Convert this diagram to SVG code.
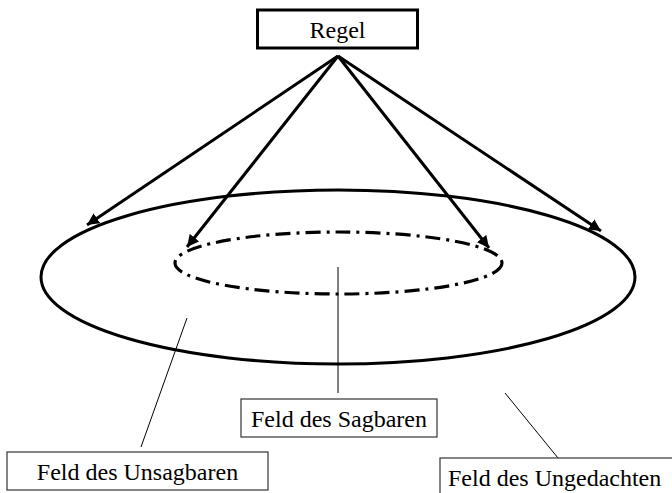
<svg xmlns="http://www.w3.org/2000/svg" width="672" height="493" viewBox="0 0 672 493">
<style>
text{font-family:'Liberation Serif','Times New Roman',Times,'DejaVu Serif',serif;font-size:24px;fill:#000;text-anchor:middle}
.box{fill:#fff;stroke:#333;stroke-width:1.2}
.arrow{stroke:#000;stroke-width:3;fill:none;marker-end:url(#ah)}
.thin{stroke:#000;stroke-width:1;fill:none}
</style>
<defs>
<marker id="ah" markerUnits="userSpaceOnUse" markerWidth="14" markerHeight="12" refX="12" refY="6" orient="auto">
<path d="M0,0 L12,6 L0,12 z" fill="#000"/>
</marker>
</defs>
<g id="fields">
<ellipse id="outer" cx="338" cy="277" rx="297" ry="87" fill="none" stroke="#000" stroke-width="3"/>
<ellipse id="inner" cx="338.5" cy="263" rx="163.5" ry="31" fill="none" stroke="#000" stroke-width="3.2" stroke-dasharray="15 6 3 6"/>
</g>
<g id="connectors">
<line class="arrow" x1="338" y1="56" x2="87" y2="225"/>
<line class="arrow" x1="338" y1="56" x2="187" y2="247"/>
<line class="arrow" x1="338" y1="56" x2="489" y2="248"/>
<line class="arrow" x1="338" y1="56" x2="601" y2="231"/>
<line class="thin" x1="338" y1="267" x2="338" y2="393"/>
<line class="thin" x1="187" y1="318" x2="141" y2="447"/>
<line class="thin" x1="505" y1="393" x2="558" y2="458"/>
</g>
<g id="regel">
<rect x="257.5" y="10" width="160" height="38" fill="#fff" stroke="#000" stroke-width="3"/>
<text x="337.5" y="38" font-family="Liberation Serif, serif">Regel</text>
</g>
<g id="sagbaren">
<rect class="box" x="241" y="399" width="196" height="38"/>
<text x="339" y="427" font-family="Liberation Serif, serif">Feld des Sagbaren</text>
</g>
<g id="unsagbaren">
<rect class="box" x="7" y="452" width="261" height="38"/>
<text x="137.5" y="480" font-family="Liberation Serif, serif">Feld des Unsagbaren</text>
</g>
<g id="ungedachten">
<rect class="box" x="440" y="458" width="240" height="40"/>
<text x="448" y="486" style="text-anchor:start" font-family="Liberation Serif, serif">Feld des Ungedachten</text>
</g>
</svg>
